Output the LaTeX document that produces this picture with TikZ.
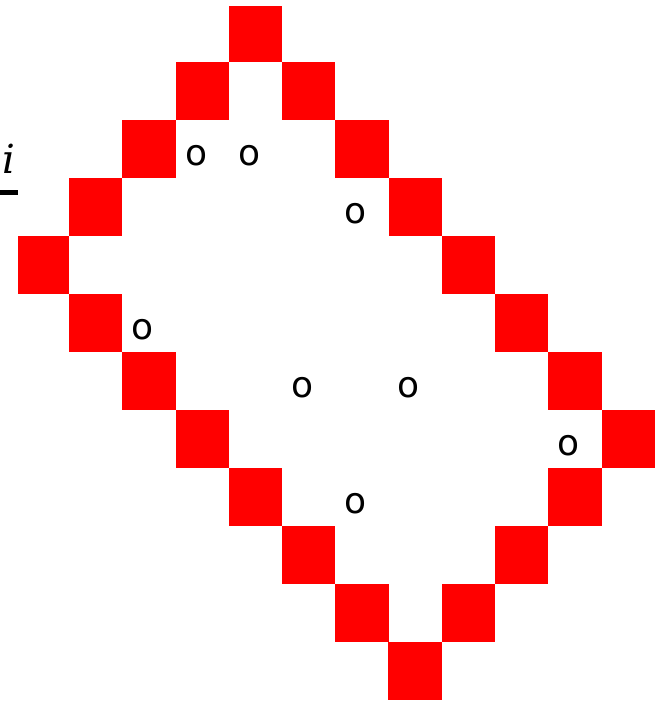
\documentclass[tikz,border=0pt]{standalone}
\usepackage{fontspec}
\newfontfamily\ofont{DejaVu Sans}
\newfontfamily\ifont{DejaVu Serif}
\begin{document}
\begin{tikzpicture}[x=1pt,y=-1pt,
  cell/.style={fill=red},
  mark o/.style={inner sep=0pt,font=\ofont\fontsize{36}{40}\selectfont},
  mark i/.style={inner sep=0pt,font=\ifont\fontsize{40}{44}\selectfont\itshape}]
\useasboundingbox (0,0) rectangle (667,703);
\foreach \xa/\ya/\xb/\yb in {
  229/6/282/62,
  176/62/229/120, 282/62/335/120,
  122/120/176/178, 335/120/389/178,
  69/178/122/236, 389/178/442/236,
  18/236/69/294, 442/236/495/294,
  69/294/122/352, 495/294/548/352,
  122/352/176/410, 548/352/602/410,
  176/410/229/468, 602/410/655/468,
  229/468/282/526, 548/468/602/526,
  282/526/335/584, 495/526/548/584,
  335/584/389/642, 442/584/495/642,
  388/642/442/700}
  \fill[cell] (\xa,\ya) rectangle (\xb,\yb);
\node[mark o] (o1) at (196.5,156) {o};
\node[mark o] (o2) at (249.5,156) {o};
\node[mark o] (o3) at (355.5,214) {o};
\node[mark o] (o4) at (143,330) {o};
\node[mark o] (o5) at (302.5,388) {o};
\node[mark o] (o6) at (409,388) {o};
\node[mark o] (o7) at (569,446) {o};
\node[mark o] (o8) at (355.5,504) {o};
\node[mark i] (i) at (8.5,159) {i};
\fill (0,190) rectangle (18,195);
\end{tikzpicture}
\end{document}
